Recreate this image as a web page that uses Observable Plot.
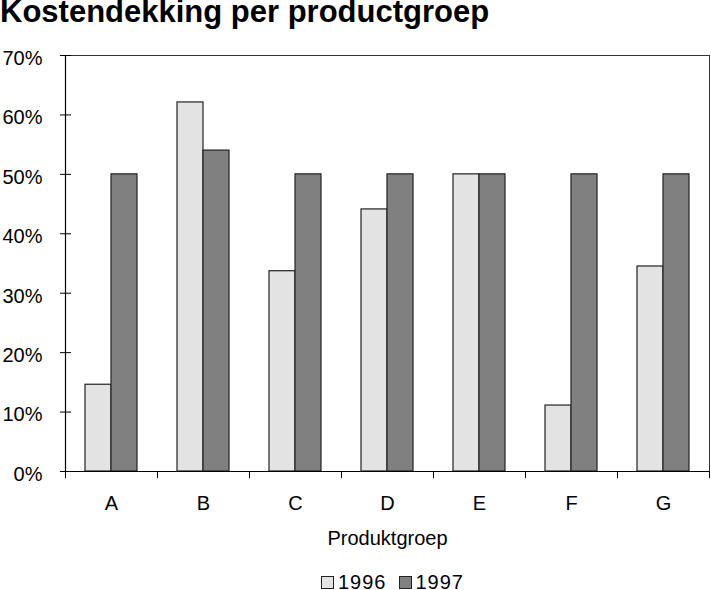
<!DOCTYPE html>
<html><head><meta charset="utf-8">
<script src="https://cdn.jsdelivr.net/npm/d3@7"></script>
<script src="https://cdn.jsdelivr.net/npm/@observablehq/plot@0.6"></script>
<style>
body{margin:0;background:#fff;font-family:"Liberation Sans",Arial,sans-serif;}
#wrap{position:relative;width:711px;height:590px;overflow:hidden;background:#fff}
#title{position:absolute;left:0;top:-4px;font-size:31px;font-weight:bold;white-space:nowrap;line-height:31px}
#chart{position:absolute;left:0;top:0}
#legend{position:absolute;top:574px;left:321px;font-size:20px;line-height:16px;letter-spacing:1px;display:flex;align-items:center;white-space:nowrap}
.sw{display:inline-block;width:11px;height:11px;border:1px solid #222;margin-right:4px}
.item{display:flex;align-items:center;margin-right:12px}
</style></head>
<body><div id="wrap"><div id="chart"></div><div id="title">Kostendekking per productgroep</div><div id="legend"></div></div>
<script>
const categories = ["A","B","C","D","E","F","G"];
const years = ["1996","1997"];
const values1996 = [14.6, 62.1, 33.7, 44.1, 50, 11.1, 34.5];
const values1997 = [50, 54, 50, 50, 50, 50, 50];
const yTicks = [0,10,20,30,40,50,60,70];
const colors = ["#e3e3e3","#808080"];
const xLabel = "Produktgroep";

const data = categories.flatMap((c,i)=>[
  {cat:c, year:years[0], v:values1996[i]},
  {cat:c, year:years[1], v:values1997[i]}
]);
const W = 711, H = 560, mL = 65, mR = 2, mT = 55, mB = 89;
const bw = (W - mL - mR) / categories.length;
const gap = bw * 20/92, barW = bw * 26/92;

const chart = Plot.plot({
  width: W, height: H,
  marginLeft: mL, marginRight: mR, marginTop: mT, marginBottom: mB,
  style: {fontFamily: "'Liberation Sans', Arial, sans-serif", fontSize: "20px", color: "#000", background: "#fff", overflow: "visible"},
  x: {domain: categories, padding: 0, axis: null},
  y: {domain: [0, 70], axis: null},
  color: {domain: years, range: colors},
  marks: [
    Plot.frame({stroke: "#333", strokeWidth: 1}),
    Plot.barY(data.filter(d => d.year === years[0]), {x: "cat", y: "v", fill: "year", stroke: "#222", strokeWidth: 1.2, insetLeft: gap, insetRight: bw - gap - barW}),
    Plot.barY(data.filter(d => d.year === years[1]), {x: "cat", y: "v", fill: "year", stroke: "#222", strokeWidth: 1.2, insetLeft: gap + barW, insetRight: gap}),
    Plot.ruleY([0], {stroke: "#000", strokeWidth: 1.2}),
    Plot.ruleX(categories, {x: d => d, dx: -bw/2, y1: 0, y2: -1.2, stroke: "#000"}),
    Plot.ruleX([categories[categories.length-1]], {x: d => d, dx: bw/2, y1: 0, y2: -1.2, stroke: "#000"}),
    Plot.ruleX([categories[0]], {x: d => d, dx: -bw/2, y1: 0, y2: 70, stroke: "#000", strokeWidth: 1.2}),
    Plot.axisY({ticks: yTicks, tickSize: 11, dx: 6, tickFormat: () => "", label: null, stroke: "#000"}),
    Plot.axisY({ticks: yTicks, tickSize: 0, tickPadding: 23, dy: 3, tickFormat: d => d + "%", label: null, fontSize: 20, fill: "#000"}),
    Plot.axisX({tickSize: 0, tickPadding: 24, label: null, fontSize: 20, fill: "#000"}),
    Plot.text([xLabel], {text: d => d, frameAnchor: "bottom", dy: 73, fontSize: 20, fill: "#000"})
  ]
});
document.getElementById("chart").appendChild(chart);

const legend = document.getElementById("legend");
years.forEach((y, i) => {
  const item = document.createElement("span");
  item.className = "item";
  const sw = document.createElement("span");
  sw.className = "sw";
  sw.style.background = colors[i];
  item.appendChild(sw);
  item.appendChild(document.createTextNode(y));
  legend.appendChild(item);
});
</script>
</body></html>
